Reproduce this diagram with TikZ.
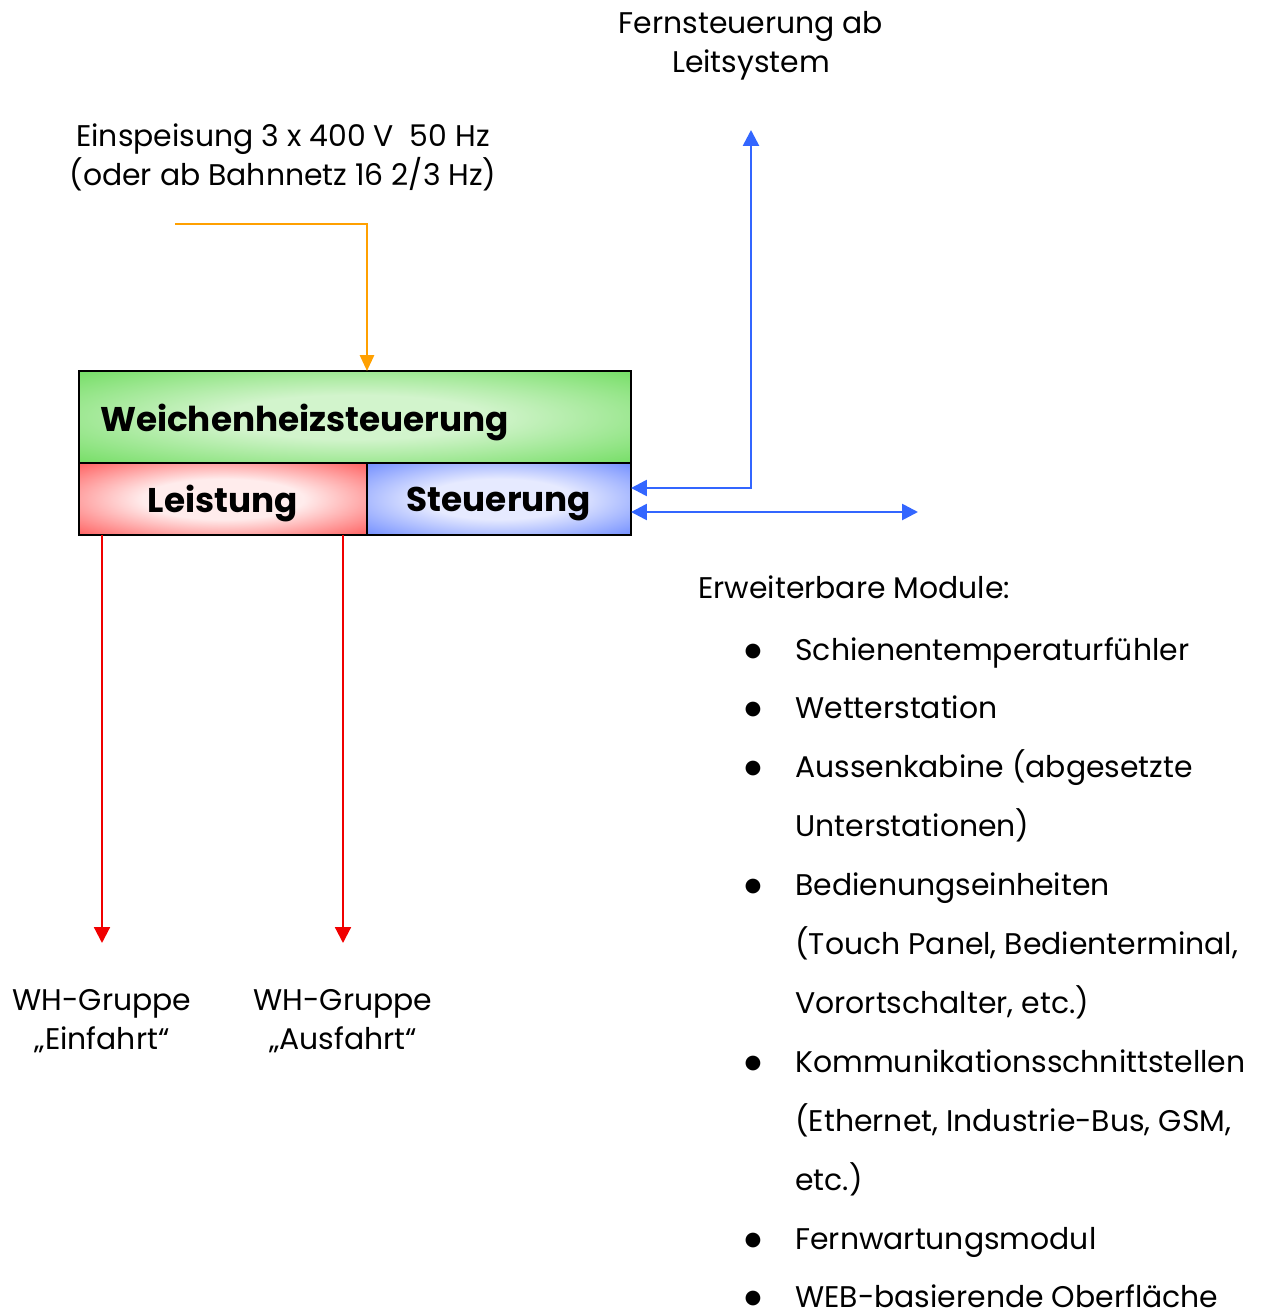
\documentclass[tikz,border=0pt]{standalone}
\usepackage{fontspec}
\setmainfont{Poppins}
\newfontfamily\dotfont{DejaVu Sans}
\usetikzlibrary{arrows.meta,calc}

\definecolor{boxgreen}{RGB}{76,212,56}
\definecolor{greenlight}{RGB}{210,244,204}
\definecolor{boxred}{RGB}{255,28,28}
\definecolor{redlight}{RGB}{255,236,236}
\definecolor{boxblue}{RGB}{58,98,255}
\definecolor{bluelight}{RGB}{230,234,255}
\definecolor{feedorange}{RGB}{255,160,0}
\definecolor{linkblue}{RGB}{51,102,255}
\definecolor{powerred}{RGB}{240,0,0}

\pgfdeclareradialshading{greenglow}{\pgfpointorigin}{color(0bp)=(greenlight); color(12bp)=(greenlight); color(46bp)=(boxgreen); color(50bp)=(boxgreen)}
\pgfdeclareradialshading{redglow}{\pgfpointorigin}{color(0bp)=(redlight); color(14bp)=(redlight); color(46bp)=(boxred); color(50bp)=(boxred)}
\pgfdeclareradialshading{blueglow}{\pgfpointorigin}{color(0bp)=(bluelight); color(14bp)=(bluelight); color(46bp)=(boxblue); color(50bp)=(boxblue)}

\newlength\unitpx
\setlength\unitpx{0.02cm}

\begin{document}
\begin{tikzpicture}[x=0.02cm,y=-0.02cm,
    part/.style={draw=black, line width=1.1pt, shade, minimum height=72\unitpx,
        inner sep=0pt, outer sep=0pt, text depth=0pt,
        font=\fontsize{19.5}{22}\selectfont\bfseries},
    txt/.style={font=\fontsize{17}{22}\selectfont, inner sep=0pt},
    feed/.style={draw=feedorange, line width=1.3pt, -{Triangle[length=9pt,width=8pt]}},
    link/.style={draw=linkblue, line width=1.5pt, {Triangle[length=9pt,width=9pt]}-{Triangle[length=9pt,width=9pt]}},
    power/.style={draw=powerred, line width=1.2pt, -{Triangle[length=9pt,width=9pt]}}]
\useasboundingbox (0,0) rectangle (1266,1312);

% Steuerschrank
\node[part, shading=greenglow, minimum width=552\unitpx, minimum height=92\unitpx,
    text width=510\unitpx, align=left, text height=17pt] (whs) at (355,417) {Weichenheizsteuerung};
\node[part, shading=redglow, minimum width=288\unitpx] (lst) at (223,499) {Leistung};
\node[part, shading=blueglow, minimum width=264\unitpx] (str) at (499,499) {Steuerung};

% Beschriftungen
\node[txt, align=center, anchor=base] (fern) at (751,72) {Fernsteuerung ab\\Leitsystem};
\node[txt, align=center, anchor=base] (ein) at (283,185) {Einspeisung 3 x 400 V~ 50 Hz\\(oder ab Bahnnetz 16 2/3 Hz)};
\node[txt, align=center, anchor=base] (grp1) at (102,1049) {WH-Gruppe\\„Einfahrt“};
\node[txt, align=center, anchor=base] (grp2) at (343,1049) {WH-Gruppe\\„Ausfahrt“};

\coordinate (src) at (175,224);
\coordinate (up) at (751,130);
\coordinate (ext) at (918,512);
\coordinate (out1) at (102,943);
\coordinate (out2) at (343,943);

% Verbindungen
\draw[feed] (src) -| (lst.north east |- whs.north);
\draw[link] ($(str.east)+(0,-11)$) -| (up);
\draw[link] ($(str.east)+(0,13)$) -- (ext);
\draw[power] (lst.south west -| out1) -- (out1);
\draw[power] (lst.south west -| out2) -- (out2);

% Module
\node[txt, anchor=base west] (modhead) at (698,598) {Erweiterbare Module:};
\foreach \b/\t [count=\i from 0] in {1/Schienentemperaturfühler, 1/Wetterstation,
    1/Aussenkabine (abgesetzte, 0/Unterstationen), 1/Bedienungseinheiten,
    {0/(Touch Panel, Bedienterminal,}, {0/Vorortschalter, etc.)},
    1/Kommunikationsschnittstellen, {0/(Ethernet, Industrie-Bus, GSM,},
    0/etc.), 1/Fernwartungsmodul, 1/WEB-basierende Oberfläche}{
  \node[txt, anchor=base west] (item\i) at (795,660+58.9*\i) {\t};
  \ifnum\b=1 \node[anchor=center, inner sep=0pt, font=\dotfont\fontsize{11}{11}\selectfont]
    (dot\i) at (753,651+58.9*\i) {●}; \fi
}
\end{tikzpicture}
\end{document}
